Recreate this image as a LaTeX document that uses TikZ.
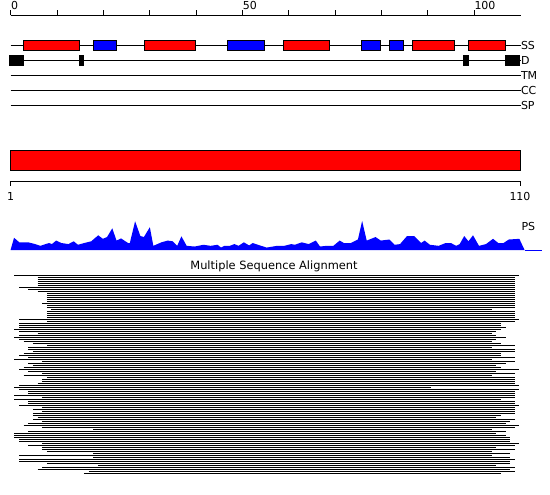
\documentclass[tikz,border=0pt]{standalone}
\usepackage{fontspec}
\setmainfont{DejaVu Sans}

\begin{document}
\begin{tikzpicture}[x=1pt,y=-1pt,line width=1pt,
  lbl/.style={font=\fontsize{11}{13}\selectfont,inner sep=0pt},
  trk/.style={lbl,anchor=west},
  helix/.style={fill=red,draw=black},
  strand/.style={fill=blue,draw=black},
  disord/.style={fill=black,draw=black}]

\fill[white] (0,0) rectangle (550,495);
\useasboundingbox (0,0) rectangle (550,495);

\draw (10.5,15.5) -- (520.5,15.5);
\foreach \t in {0,10,...,100}
  \draw ({10.7+4.633*\t},15.5) -- ++(0,-5.5);
\node[lbl,anchor=base west] (t0)   at (10.7,10)  {0};
\node[lbl,anchor=base west] (t50)  at (242.3,10) {50};
\node[lbl,anchor=base west] (t100) at (474,10)   {100};

\foreach \y/\n in {45.5/SS,60.5/D,75.5/TM,90.5/CC,105.5/SP} {
  \draw (10.5,\y) -- (520.5,\y);
  \node[trk] (\n) at (520.5,\y) {\n};
}

\begin{scope}[xshift=9.8pt,x=4.633pt]
\foreach \a/\b in {3/15,29/40,59/69,87/96,99/107}
  \draw[helix] (\a,40.5) rectangle (\b,50.5);
\foreach \a/\b in {18/23,47/55,76/80,82/85}
  \draw[strand] (\a,40.5) rectangle (\b,50.5);
\foreach \a/\b in {0/3,15/16,98/99,107/110}
  \draw[disord] (\a,55.5) rectangle (\b,65.5);

\foreach \s/\e [count=\k from 0] in {1/110,6/109,6/109,6/109,6/109,6/109,2/109,4/109,6/109,8/109,
    8/109,8/109,8/109,8/109,7/109,8/109,8/109,9/104,8/109,8/109,
    8/109,8/109,2/110,8/109,2/106,2/106,2/107,1/106,2/105,6/104,
    2/105,1/107,2/105,3/104,5/106,8/109,4/104,4/109,5/109,3/106,
    2/106,4/109,1/104,7/109,4/107,5/105,3/106,2/110,4/105,7/109,
    3/104,8/109,7/109,7/109,6/109,2/110,1/91,2/110,4/109,4/109,
    1/109,7/109,1/106,4/109,4/109,2/110,7/109,5/109,7/109,5/109,
    5/106,6/105,5/109,7/108,4/107,3/110,7/109,18/104,4/107,1/105,
    1/107,1/108,2/108,2/108,7/110,4/109,7/105,7/109,8/104,18/108,
    2/104,18/108,2/109,2/108,8/108,19/105,7/109,6/108,17/109,16/106}
  \draw (\s,{275.5+2*\k}) -- (\e,{275.5+2*\k});
\end{scope}

\draw[helix] (10.5,150.5) rectangle (520,170.5);
\draw (10.5,186) -- (10.5,181.5) -- (520,181.5) -- (520,186);
\node[lbl,anchor=north] (first) at (10.5,191.5) {1};
\node[lbl,anchor=north] (last)  at (520,191.5)  {110};

\begin{scope}[shift={(0,213.2)},x=0.3509pt,y=-0.3509pt]
\fill[blue] (30,105) -- (40,70) -- (55,83) -- (80,83) -- (100,88) -- (115,93) -- (130,88)
  -- (140,85) -- (148,88) -- (160,78) -- (175,85) -- (195,88) -- (210,80) -- (222,90)
  -- (240,85) -- (260,80) -- (280,63) -- (293,73) -- (305,68) -- (320,43) -- (332,78)
  -- (345,72) -- (365,85) -- (370,85) -- (385,23) -- (400,65) -- (410,68) -- (427,40)
  -- (437,93) -- (460,83) -- (478,78) -- (492,80) -- (505,93) -- (517,66) -- (532,93)
  -- (555,95) -- (580,90) -- (600,93) -- (620,90) -- (630,98) -- (640,93) -- (655,93)
  -- (668,88) -- (680,93) -- (695,83) -- (710,92) -- (720,85) -- (735,90) -- (760,98)
  -- (790,93) -- (810,93) -- (830,88) -- (840,90) -- (860,83) -- (880,88) -- (900,78)
  -- (912,95) -- (930,93) -- (950,93) -- (968,78) -- (980,85) -- (1000,85) -- (1020,75)
  -- (1032,22) -- (1045,78) -- (1070,68) -- (1085,78) -- (1110,75) -- (1125,90) -- (1140,88)
  -- (1160,65) -- (1180,65) -- (1200,85) -- (1210,78) -- (1225,90) -- (1250,93) -- (1270,85)
  -- (1285,85) -- (1300,93) -- (1310,88) -- (1323,65) -- (1335,80) -- (1348,63) -- (1365,93)
  -- (1385,88) -- (1405,73) -- (1420,85) -- (1435,85) -- (1450,75) -- (1480,73) -- (1495,105)
  -- cycle;
\draw[blue] (1495,105) -- (1545,105);
\end{scope}
\node[trk] (PS) at (521,226) {PS};

\node[lbl,anchor=base,font=\fontsize{11.4}{13}\selectfont] (msa) at (274,269.5) {Multiple Sequence Alignment};

\end{tikzpicture}
\end{document}
